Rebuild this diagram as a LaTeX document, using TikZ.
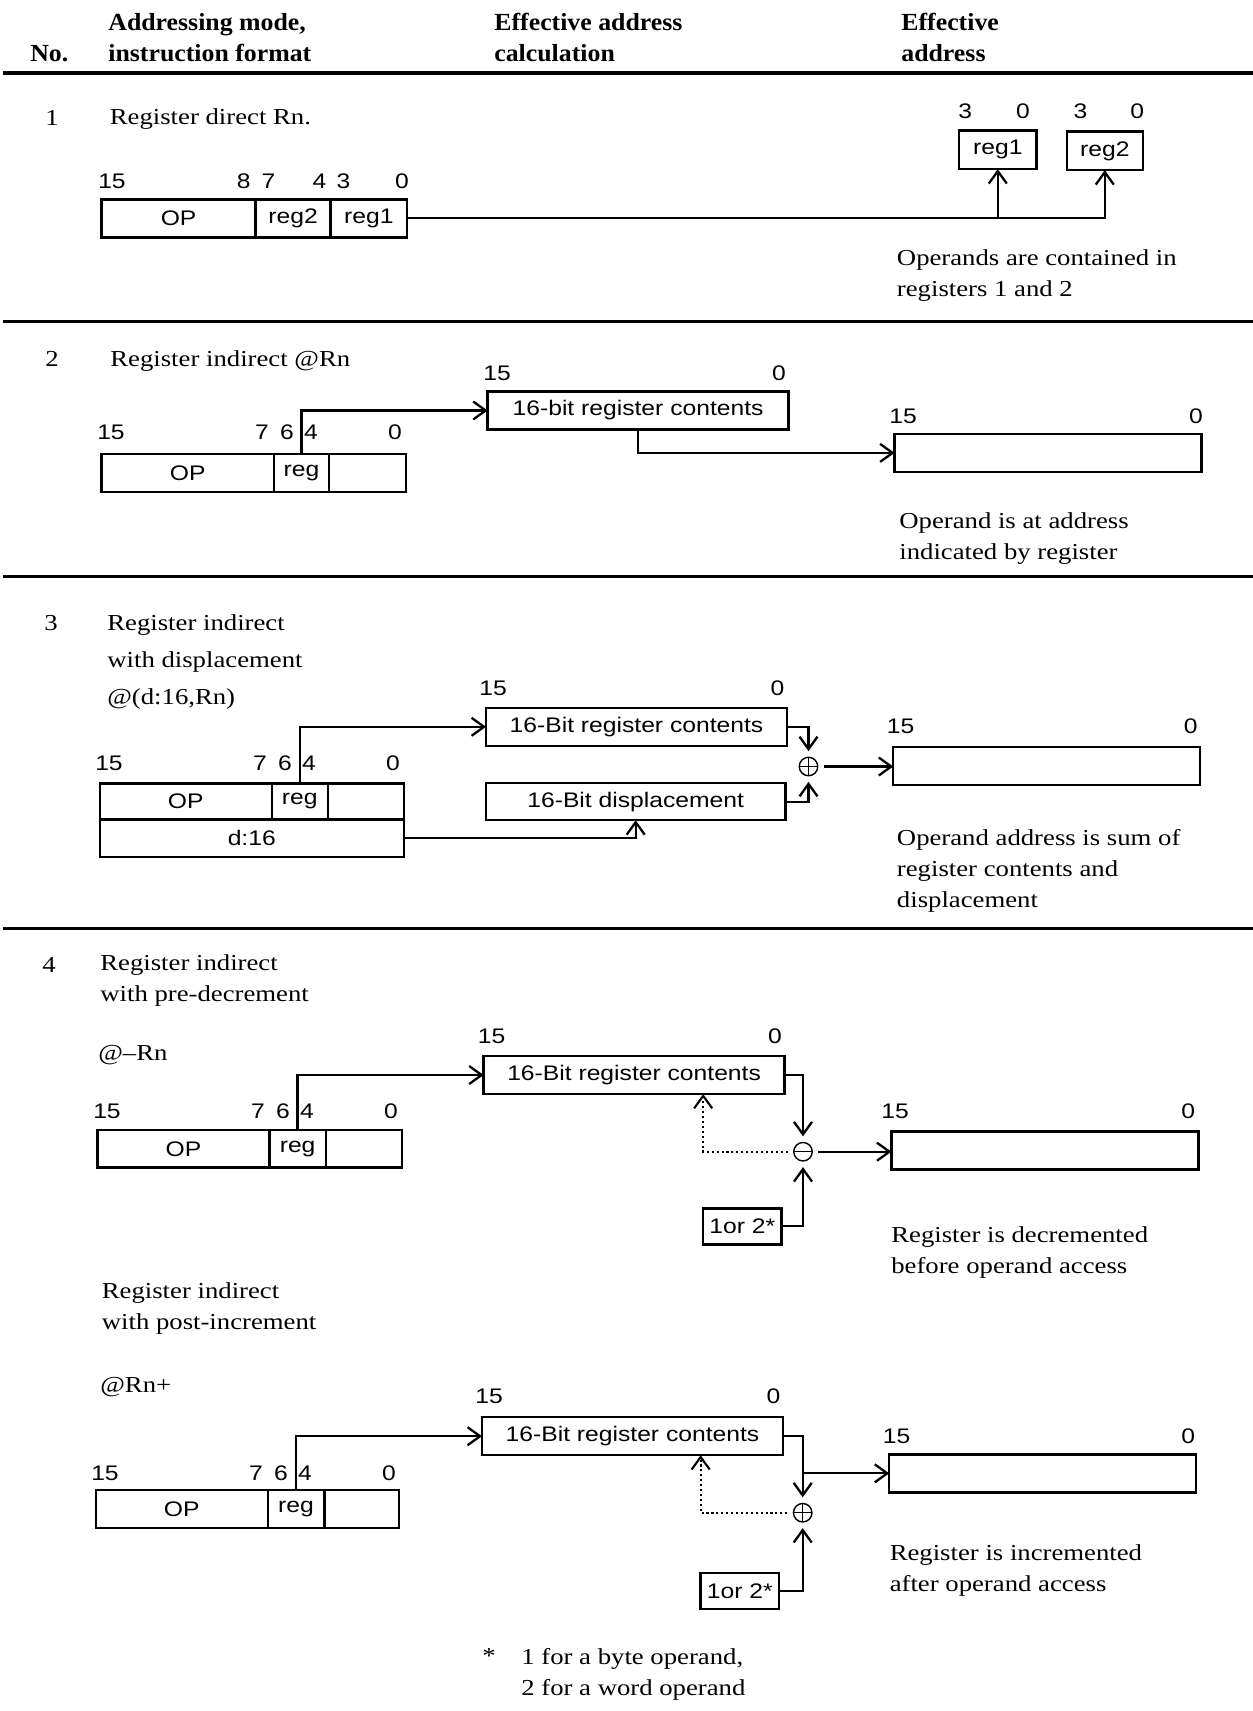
\documentclass[tikz,border=0pt]{standalone}
\usepackage{fontspec}
\setmainfont{Liberation Serif}[FakeStretch=1.17]
\setsansfont{Liberation Sans}[FakeStretch=1.17]
\newfontfamily\headfont{Liberation Serif}[FakeStretch=1.05]
\usetikzlibrary{arrows.meta,positioning}

\begin{document}
\begin{tikzpicture}[x=0.02cm,y=-0.02cm,field/.style={draw,line width=1.4pt,minimum height=0.76cm,inner sep=0pt,outer sep=0pt,font=\sffamily\fontsize{12}{14}\selectfont},bit/.style={inner sep=0pt,font=\sffamily\fontsize{12}{14}\selectfont},txt/.style={inner sep=0pt,align=left,anchor=north west,font=\fontsize{13}{17.6}\selectfont},head/.style={inner sep=0pt,align=left,font=\headfont\bfseries\fontsize{14}{17.6}\selectfont},opnode/.style={circle,draw,line width=0.8pt,minimum size=0.37cm,inner sep=0pt,outer sep=3.5pt},sumop/.style={opnode,path picture={\draw[line width=0.7pt] (path picture bounding box.north)--(path picture bounding box.south) (path picture bounding box.west)--(path picture bounding box.east);}},subop/.style={opnode,path picture={\draw[line width=0.7pt] (path picture bounding box.west)--(path picture bounding box.east);}},arr/.style={-{Straight Barb[length=2.5mm,width=3.6mm]},line width=1.3pt},dotarr/.style={line width=1.2pt,dash pattern=on 1.2pt off 1.6pt},rule/.style={line width=1.8pt}]
 \useasboundingbox (0,0) rectangle (1253,1711);
 \node[head,anchor=base west] (hno) at (30,61) {No.};
 \node[head,anchor=north west] (hmode) at (108,13) {Addressing mode,\\instruction format};
 \node[head,anchor=north west] (hcalc) at (494,13) {Effective address\\calculation};
 \node[head,anchor=north west] (hea) at (901,13) {Effective\\address};
 \draw[rule] (3,73)--(1253,73);

 \node[txt,anchor=base] (n1) at (52,125) {1};
 \node[txt,anchor=base west] (m1) at (109.5,124) {Register direct Rn.};
 \node[field,minimum width=3.08cm] (op1) at (178.6,218.3) {OP};
 \node[field,minimum width=1.5cm,right=0pt of op1] (fr2) {reg2};
 \node[field,minimum width=1.53cm,right=0pt of fr2] (fr1) {reg1};
 \node[field,minimum width=1.55cm,minimum height=0.77cm] (rb1) at (997.8,149.9) {reg1};
 \node[field,minimum width=1.52cm,minimum height=0.77cm] (rb2) at (1104.8,150.9) {reg2};
 \node[bit] (b1a) at (112,181) {15}; \node[bit] (b1b) at (243.7,181) {8}; \node[bit] (b1c) at (268.5,181) {7};
 \node[bit] (b1d) at (319.6,181) {4}; \node[bit] (b1e) at (343.6,181) {3}; \node[bit] (b1f) at (402,181) {0};
 \node[bit] (b1g) at (965.3,111.7) {3}; \node[bit] (b1h) at (1022.9,111.7) {0}; \node[bit] (b1i) at (1080.4,111.7) {3}; \node[bit] (b1j) at (1137.1,111.7) {0};
 \draw[arr] (fr1.east) -| (rb2.south); \draw[arr] (rb1.south |- fr1.east)--(rb1.south);
 \node[txt] (d1) at (896.6,249) {Operands are contained in\\registers 1 and 2};
 \draw[rule] (3,321.7)--(1253,321.7);

 \node[txt,anchor=base] (n2) at (52,366) {2};
 \node[txt,anchor=base west] (m2) at (110,366) {Register indirect @Rn};
 \node[field,minimum width=3.45cm] (op2) at (187.8,472.8) {OP};
 \node[field,minimum width=1.1cm,right=0pt of op2] (reg2) {reg};
 \node[field,minimum width=1.54cm,right=0pt of reg2] (emp2) {};
 \node[field,minimum width=6.02cm] (rc2) at (638.1,410.5) {16-bit register contents};
 \node[field,minimum width=6.14cm] (ea2) at (1048,452.9) {};
 \node[bit] (b2a) at (111,432) {15}; \node[bit] (b2b) at (262,432) {7}; \node[bit] (b2c) at (287,432) {6}; \node[bit] (b2d) at (311,432) {4}; \node[bit] (b2e) at (395,432) {0};
 \node[bit] (b2f) at (497,373) {15}; \node[bit] (b2g) at (779,373) {0}; \node[bit] (b2h) at (903,416) {15}; \node[bit] (b2i) at (1196,416) {0};
 \draw[arr] (reg2.north) |- (rc2.west); \draw[arr] (rc2.south) |- (ea2.west);
 \node[txt] (d2) at (899,512.7) {Operand is at address\\indicated by register};
 \draw[rule] (3,576.7)--(1253,576.7);

 \node[txt,anchor=base] (n3) at (51,630) {3};
 \node[txt,font=\fontsize{13}{21}\selectfont] (m3) at (107,614) {Register indirect\\with displacement\\@(d:16,Rn)};
 \node[field,minimum width=3.44cm,minimum height=0.72cm] (op3) at (185.8,801.3) {OP};
 \node[field,minimum width=1.12cm,minimum height=0.72cm,right=0pt of op3] (reg3) {reg};
 \node[field,minimum width=1.52cm,minimum height=0.72cm,right=0pt of reg3] (emp3) {};
 \node[field,minimum width=6.08cm,minimum height=0.75cm,below right=0pt of op3.south west] (d16) {d:16};
 \node[field,minimum width=6.02cm] (rc3) at (636.5,726.8) {16-Bit register contents};
 \node[field,minimum width=6cm,minimum height=0.74cm] (dp3) at (635.7,801.7) {16-Bit displacement};
 \node[sumop] (sum3) at (808.5,766.5) {};
 \node[field,minimum width=6.14cm] (ea3) at (1046.7,766.2) {};
 \node[bit] (b3a) at (109,763.3) {15}; \node[bit] (b3b) at (260,763.3) {7}; \node[bit] (b3c) at (285,763.3) {6}; \node[bit] (b3d) at (309,763.3) {4}; \node[bit] (b3e) at (393,763.3) {0};
 \node[bit] (b3f) at (493,688.3) {15}; \node[bit] (b3g) at (777.5,688.3) {0}; \node[bit] (b3h) at (900.6,726.7) {15}; \node[bit] (b3i) at (1190.7,726.7) {0};
 \draw[arr] (reg3.north) |- (rc3.west); \draw[arr] (d16.east) -| (dp3.south);
 \draw[arr] (rc3.east) -| (sum3.north); \draw[arr] (dp3.east) -| (sum3.south); \draw[arr] (sum3.east)--(sum3.east -| ea3.west);
 \node[txt] (d3) at (896.6,829) {Operand address is sum of\\register contents and\\displacement};
 \draw[rule] (3,928.3)--(1253,928.3);

 \node[txt,anchor=base] (n4) at (49,972) {4};
 \node[txt] (m4) at (100,954) {Register indirect\\with pre-decrement};
 \node[txt,anchor=base west] (a4) at (98,1060) {@–Rn};
 \node[field,minimum width=3.44cm,minimum height=0.75cm] (op4) at (183.4,1148.8) {OP};
 \node[field,minimum width=1.13cm,minimum height=0.75cm,right=0pt of op4] (reg4) {reg};
 \node[field,minimum width=1.52cm,minimum height=0.75cm,right=0pt of reg4] (emp4) {};
 \node[field,minimum width=6.02cm] (rc4) at (634.1,1075) {16-Bit register contents};
 \node[subop] (dec4) at (803,1151.7) {};
 \node[field,minimum width=1.57cm,minimum height=0.72cm] (one4) at (742.4,1226.3) {1or 2*};
 \node[field,minimum width=6.14cm] (ea4) at (1044.9,1150.5) {};
 \node[bit] (b4a) at (107,1111) {15}; \node[bit] (b4b) at (258,1111) {7}; \node[bit] (b4c) at (283,1111) {6}; \node[bit] (b4d) at (307,1111) {4}; \node[bit] (b4e) at (391,1111) {0};
 \node[bit] (b4f) at (491.5,1036.7) {15}; \node[bit] (b4g) at (775,1036.7) {0}; \node[bit] (b4h) at (895,1111.7) {15}; \node[bit] (b4i) at (1188.3,1111.7) {0};
 \draw[arr] (reg4.north) |- (rc4.west); \draw[arr] (rc4.east) -| (dec4.north); \draw[arr] (one4.east) -| (dec4.south);
 \draw[arr,dotarr] (dec4.west) -| (one4.west |- rc4.south); \draw[arr] (dec4.east)--(dec4.east -| ea4.west);
 \node[txt] (d4) at (891,1226) {Register is decremented\\before operand access};

 \node[txt] (m5) at (101.5,1282.7) {Register indirect\\with post-increment};
 \node[txt,anchor=base west] (a5) at (100,1392) {@Rn+};
 \node[field,minimum width=3.44cm,minimum height=0.76cm] (op5) at (181.8,1509.2) {OP};
 \node[field,minimum width=1.13cm,right=0pt of op5] (reg5) {reg};
 \node[field,minimum width=1.5cm,right=0pt of reg5] (emp5) {};
 \node[field,minimum width=6.02cm] (rc5) at (632.5,1436.2) {16-Bit register contents};
 \node[sumop] (inc5) at (802.7,1512.7) {};
 \node[field,minimum width=1.57cm,minimum height=0.73cm] (one5) at (739.9,1591) {1or 2*};
 \node[field,minimum width=6.14cm] (ea5) at (1042.7,1473.3) {};
 \node[bit] (b5a) at (105,1473.3) {15}; \node[bit] (b5b) at (256,1473.3) {7}; \node[bit] (b5c) at (281,1473.3) {6}; \node[bit] (b5d) at (305,1473.3) {4}; \node[bit] (b5e) at (389,1473.3) {0};
 \node[bit] (b5f) at (489,1396.7) {15}; \node[bit] (b5g) at (773.5,1396.7) {0}; \node[bit] (b5h) at (896.6,1436.7) {15}; \node[bit] (b5i) at (1188.3,1436.7) {0};
 \draw[arr] (reg5.north) |- (rc5.west); \draw[arr] (rc5.east) -| (inc5.north); \draw[arr] (inc5.north |- ea5.west)--(ea5.west);
 \draw[arr] (one5.east) -| (inc5.south); \draw[arr,dotarr] (inc5.west) -| (one5.west |- rc5.south);
 \node[txt] (d5) at (889.4,1544) {Register is incremented\\after operand access};
 \node[txt,anchor=base] (fstar) at (489,1663.7) {*};
 \node[txt] (fnote) at (521,1647.7) {1 for a byte operand,\\2 for a word operand};
\end{tikzpicture}
\end{document}
